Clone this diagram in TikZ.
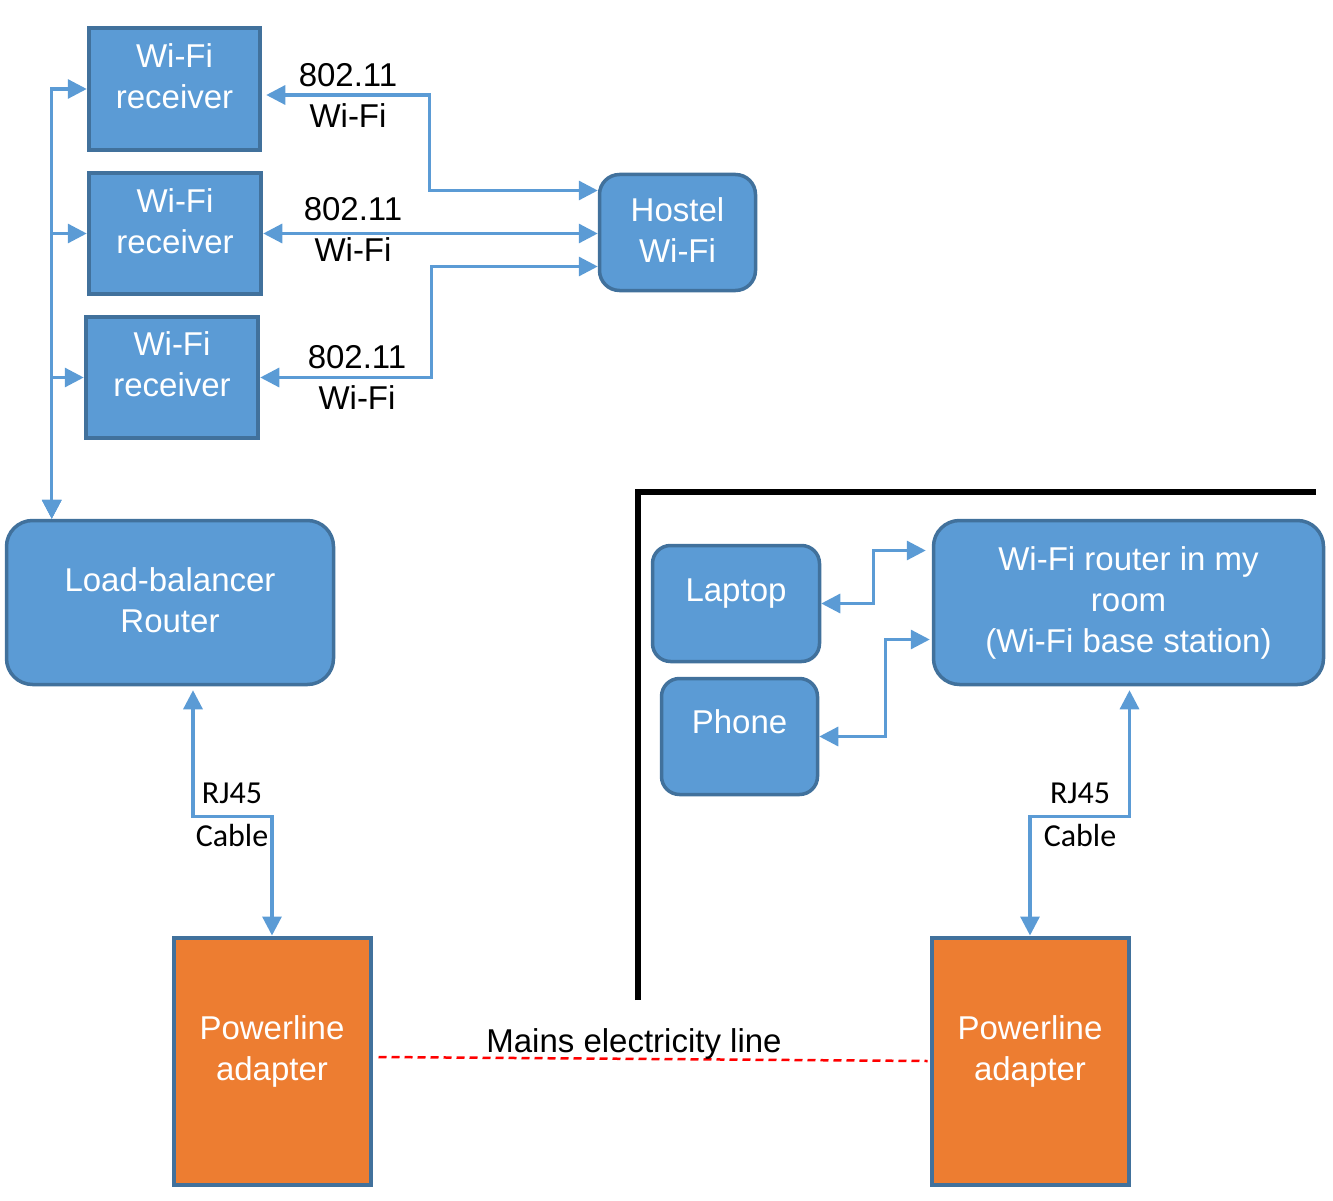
\documentclass[tikz,border=0pt]{standalone}
\usepackage{fontspec}
\setmainfont{Liberation Sans}
\newfontfamily\calib{Carlito}
\usetikzlibrary{arrows.meta}
\definecolor{bfill}{HTML}{5B9BD5}
\definecolor{bdr}{HTML}{41719C}
\definecolor{orng}{HTML}{ED7D31}
\definecolor{cblue}{HTML}{5B9BD5}
\tikzset{
  >={Triangle[length=19pt,width=19pt]},
  sqbox/.style={draw=bdr, fill=bfill, line width=4.5pt, inner sep=0pt},
  rdbox/.style={draw=bdr, fill=bfill, line width=3.5pt, inner sep=0pt, rounded corners=#1},
  plbox/.style={draw=bdr, fill=orng, line width=4pt, inner sep=0pt},
  wtxt/.style={text=white, font=\fontsize{33}{41}\selectfont, align=center, inner sep=0pt},
  btxt/.style={text=black, font=\fontsize{33}{41}\selectfont, align=center, inner sep=0pt},
  ctxt/.style={text=black, font=\calib\fontsize{32}{43}\selectfont, align=center, inner sep=0pt},
  conn/.style={draw=cblue, line width=3.2pt, <->},
  wall/.style={draw=black, line width=6pt, line join=miter},
  mains/.style={draw=red, line width=2.5pt, dash pattern=on 8pt off 5pt},
}
\begin{document}
\begin{tikzpicture}[x=1pt,y=-1pt]
\useasboundingbox (0,0) rectangle (1333,1201);
% boxes
\node[sqbox, minimum width=171, minimum height=122, label={[wtxt,yshift=13]center:Wi-Fi\\receiver}] (rec1) at (174.5,89) {};
\node[sqbox, minimum width=172, minimum height=121, label={[wtxt,yshift=12]center:Wi-Fi\\receiver}] (rec2) at (175,233.5) {};
\node[sqbox, minimum width=172, minimum height=121, label={[wtxt,yshift=13]center:Wi-Fi\\receiver}] (rec3) at (172,377.5) {};
\node[rdbox=20pt, minimum width=156, minimum height=116, label={[wtxt,yshift=2]center:Hostel\\Wi-Fi}] (hostel) at (677.5,232.5) {};
\node[rdbox=26pt, minimum width=327, minimum height=164, label={[wtxt,yshift=2]center:Load-balancer\\Router}] (lbr) at (170,602.5) {};
\node[rdbox=18pt, minimum width=167, minimum height=116, label={[wtxt,yshift=10]center:Laptop}] (laptop) at (736,603.5) {};
\node[rdbox=18pt, minimum width=156, minimum height=116, label={[wtxt,yshift=15]center:Phone}] (phone) at (739.5,736.5) {};
\node[rdbox=26pt, minimum width=390, minimum height=164, label={[wtxt,yshift=0]center:Wi-Fi router in my\\room\\(Wi-Fi base station)}] (room) at (1128.5,602.5) {};
\node[plbox, minimum width=197, minimum height=247, label={[wtxt,yshift=10]center:Powerline\\adapter}] (pl1) at (272,1061) {};
\node[plbox, minimum width=197, minimum height=247, label={[wtxt,yshift=10]center:Powerline\\adapter}] (pl2) at (1030,1061) {};
% wall
\coordinate (w1) at (638,1000);
\coordinate (w2) at (638,492);
\coordinate (w3) at (1316,492);
\draw[wall] (w1) -- (w2) -- (w3);
% connectors: router bus to receivers
\draw[conn] ([xshift=47pt]lbr.north west) |- (rec1.west);
\draw[conn] ([xshift=47pt]lbr.north west) |- (rec2.west);
\draw[conn] ([xshift=47pt]lbr.north west) |- (rec3.west);
% receivers to hostel
\draw[conn] ([yshift=-6pt,xshift=4pt]rec1.east) -- ++(163,0) |- ([yshift=42pt]hostel.west);
\draw[conn] (rec2.east) -- (rec2.east -| hostel.west);
\draw[conn] (rec3.east) -- ++(171,0) |- ([yshift=-34pt]hostel.west);
% laptop / phone to room router
\draw[conn] (laptop.east) -- ++(52,0) |- ([yshift=52pt,xshift=-6pt]room.west);
\draw[conn] (phone.east) -- ++(66,0) |- ([yshift=-37pt,xshift=-2pt]room.west);
% RJ45 cables
\draw[conn] ([xshift=23pt,yshift=-4pt]lbr.south) -- ++(0,126) -| (pl1.north);
\draw[conn] ([xshift=1pt,yshift=-4pt]room.south) -- ++(0,126) -| (pl2.north);
% mains
\draw[mains] ([xshift=6pt,yshift=4pt]pl1.east) -- ([xshift=-2pt]pl2.west);
% labels
\node[btxt] (lab1) at (348,95) {802.11\\Wi-Fi};
\node[btxt] (lab2) at (353,229.5) {802.11\\Wi-Fi};
\node[btxt] (lab3) at (357,377) {802.11\\Wi-Fi};
\node[ctxt] (rj1) at (232,814.5) {RJ45\\Cable};
\node[ctxt] (rj2) at (1080,815) {RJ45\\Cable};
\node[btxt, anchor=base] (mainslab) at (634,1052) {Mains electricity line};
\end{tikzpicture}
\end{document}
